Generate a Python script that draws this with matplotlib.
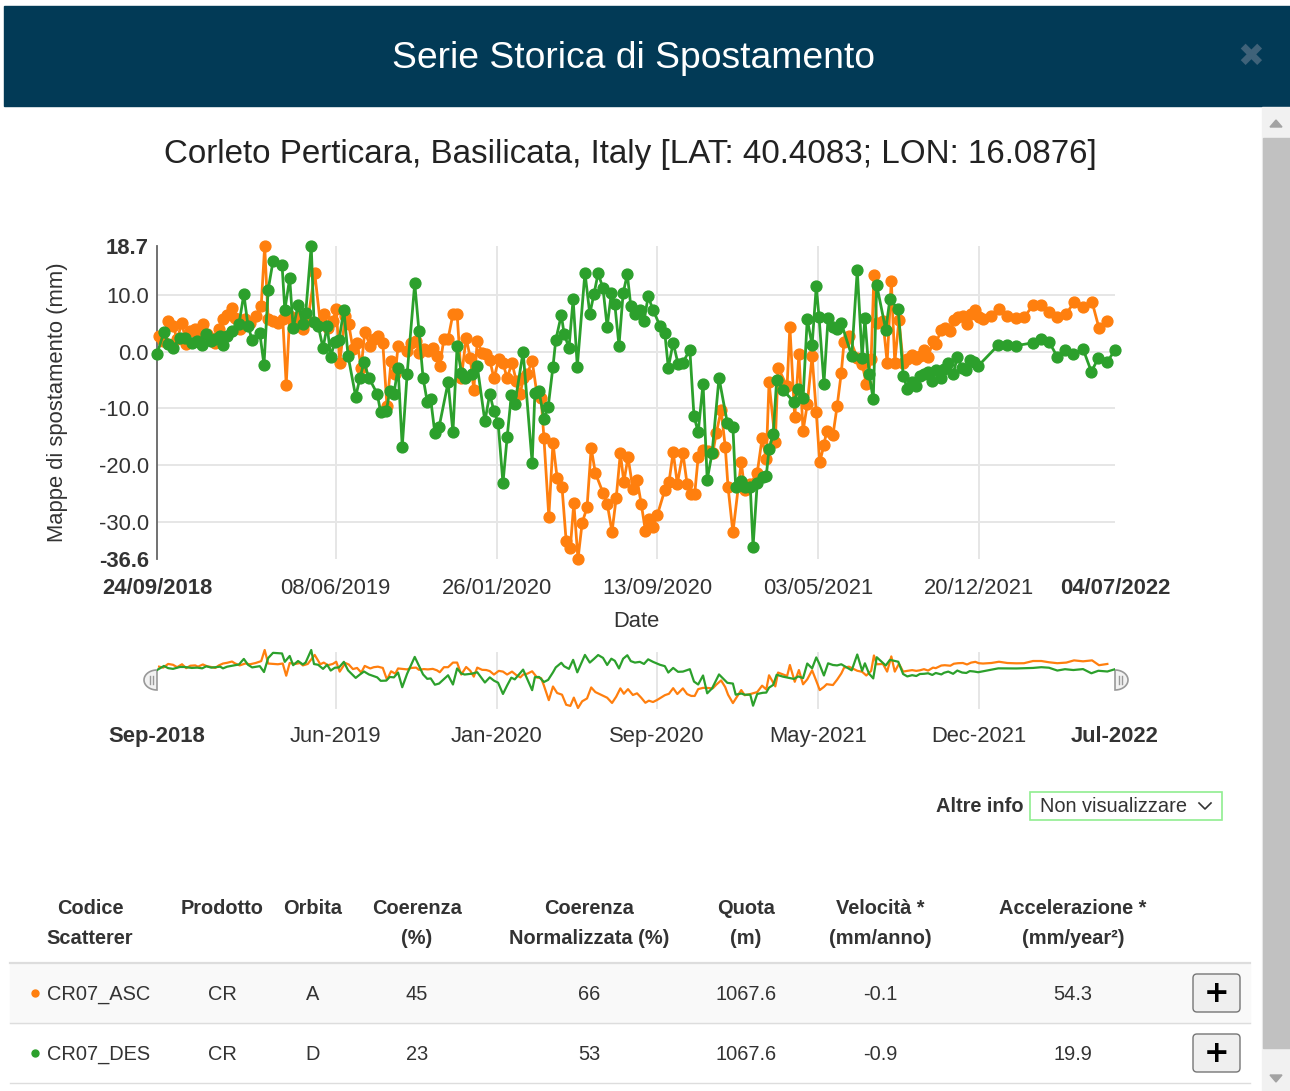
import numpy as np
import pandas as pd
import matplotlib
matplotlib.use("Agg")
import matplotlib.pyplot as plt
from matplotlib.patches import Rectangle, FancyBboxPatch, Polygon

plt.rcParams['font.family'] = ['Liberation Sans', 'DejaVu Sans']

# ---- data (days since first acquisition 24/09/2018, displacement mm) ----
start = pd.Timestamp("2018-09-24")
end = pd.Timestamp("2022-07-04")

asc_days = [3, 9, 16, 23, 29, 36, 42, 48, 55, 59,
            66, 72, 78, 84, 89, 95, 101, 108, 112, 119,
            127, 134, 142, 150, 155, 160, 167, 174, 181, 186,
            191, 199, 206, 210, 217, 227, 235, 240, 246, 253,
            258, 263, 271, 276, 282, 288, 294, 299, 307, 312,
            318, 325, 331, 337, 343, 347, 360, 366, 373, 377,
            384, 390, 397, 403, 407, 413, 419, 426, 432, 438,
            445, 451, 456, 461, 468, 474, 479, 485, 492, 498,
            504, 511, 517, 523, 527, 533, 540, 547, 553, 557,
            564, 570, 576, 583, 589, 595, 600, 606, 612, 619,
            625, 631, 642, 648, 655, 661, 667, 672, 678, 685,
            691, 697, 703, 708, 714, 720, 731, 737, 743, 749,
            757, 763, 769, 774, 779, 786, 793, 800, 805, 812,
            818, 822, 829, 841, 846, 854, 864, 871, 877, 881,
            890, 894, 907, 911, 918, 924, 930, 936, 943, 949,
            954, 960, 964, 973, 979, 985, 989, 996, 1008, 1015,
            1021, 1028, 1032, 1036, 1045, 1051, 1057, 1062, 1068, 1074,
            1080, 1087, 1093, 1098, 1104, 1110, 1117, 1121, 1129, 1134,
            1142, 1147, 1153, 1160, 1166, 1172, 1178, 1183, 1189, 1201,
            1212, 1224, 1237, 1248, 1261, 1273, 1284, 1296, 1309, 1320,
            1333, 1346, 1356, 1368]
asc_mm = [2.8, 1.9, 5.4, 4.6, 2.3, 5.1, 1.4, 3.7, 4.0, 2.8,
          4.9, 3.2, 2.5, 1.6, 4.0, 5.8, 6.5, 7.7, 6.0, 4.0,
          5.8, 5.1, 6.3, 8.1, 18.7, 5.8, 5.4, 5.1, 5.8, -5.8,
          6.3, 5.4, 6.3, 4.0, 5.4, 14.0, 5.1, 6.7, 4.2, 5.4,
          7.5, -1.9, 6.3, 4.9, 0.5, 1.6, -2.8, 3.5, 1.1, 2.3,
          2.8, 1.6, -9.5, -1.6, -3.9, 1.1, 0.2, 1.6, 1.9, -0.2,
          0.5, 0.2, 0.7, -0.7, -2.5, 2.3, 2.3, 6.7, 6.7, -4.7,
          2.5, -1.1, -6.7, 1.9, -0.2, -0.4, -1.4, -4.7, -1.2, -1.9,
          -4.7, -1.9, -5.1, -7.4, -4.7, -3.9, -1.6, -7.5, -8.2, -15.3,
          -29.1, -16.1, -22.3, -23.9, -33.5, -34.6, -26.7, -36.6, -30.2, -27.5,
          -17.0, -21.4, -24.9, -26.8, -31.8, -25.8, -17.9, -23.0, -18.6, -24.2,
          -22.6, -26.8, -31.6, -29.6, -30.9, -28.9, -24.4, -23.0, -17.7, -23.3,
          -17.9, -23.3, -25.1, -25.1, -18.6, -17.4, -17.5, -17.9, -14.4, -10.3,
          -16.8, -23.9, -31.9, -19.5, -24.4, -23.3, -21.4, -15.3, -18.9, -5.4,
          -16.0, -2.8, -6.1, 4.4, -11.6, -0.4, -14.0, -9.3, -0.7, -10.7,
          -19.5, -16.5, -13.9, -14.7, -9.6, -3.7, 1.8, 2.8, -1.1, -2.1,
          -5.6, -1.2, 13.5, 5.1, 5.4, -1.9, 12.6, -1.9, 5.6, -1.9,
          -1.2, -0.5, -1.2, -0.7, 0.4, -0.9, 1.9, 1.4, 3.9, 4.2,
          3.7, 5.6, 6.1, 6.3, 4.9, 6.7, 7.4, 6.1, 5.8, 6.3,
          7.5, 6.3, 6.0, 6.1, 8.2, 8.2, 7.0, 6.1, 6.7, 8.8,
          7.9, 8.8, 4.2, 5.4]

des_days = [0, 10, 16, 23, 33, 40, 50, 58, 65, 71,
            78, 84, 91, 95, 101, 108, 118, 125, 131, 137,
            148, 154, 160, 167, 180, 184, 191, 196, 203, 210,
            214, 222, 226, 232, 239, 245, 250, 256, 262, 269,
            275, 286, 292, 298, 305, 317, 322, 330, 335, 341,
            347, 353, 360, 371, 377, 383, 389, 394, 400, 406,
            419, 426, 432, 438, 443, 453, 461, 472, 479, 485,
            491, 498, 504, 510, 515, 527, 540, 544, 550, 557,
            563, 570, 574, 582, 586, 593, 599, 605, 616, 623,
            629, 635, 642, 648, 654, 659, 665, 671, 677, 682,
            688, 695, 701, 707, 714, 724, 731, 736, 743, 750,
            757, 767, 773, 779, 786, 792, 799, 809, 821, 829,
            833, 841, 846, 854, 858, 864, 872, 877, 881, 887,
            892, 901, 917, 923, 930, 936, 943, 949, 953, 960,
            966, 973, 979, 985, 1000, 1008, 1015, 1019, 1025, 1031,
            1036, 1049, 1055, 1067, 1074, 1080, 1087, 1093, 1098, 1104,
            1110, 1116, 1121, 1129, 1133, 1139, 1146, 1152, 1159, 1165,
            1170, 1176, 1182, 1211, 1224, 1237, 1261, 1273, 1284, 1296,
            1307, 1319, 1333, 1345, 1355, 1368, 1379]
des_mm = [-0.4, 3.5, 1.4, 0.7, 2.5, 2.5, 1.6, 1.9, 1.2, 3.2,
          1.9, 2.3, 2.8, 1.2, 2.8, 3.7, 4.9, 10.2, 4.6, 2.1,
          3.3, -2.3, 11.0, 16.0, 15.4, 7.4, 13.0, 4.2, 8.2, 4.9,
          6.8, 18.7, 5.3, 4.6, 0.7, 4.6, -0.9, 1.8, 2.1, 7.4,
          -0.7, -7.9, -4.7, -1.8, -4.6, -7.4, -10.7, -10.5, -7.0, -7.4,
          -2.8, -16.8, -4.0, 12.1, 3.7, -4.6, -8.8, -8.4, -14.4, -13.3,
          -5.4, -14.2, 1.1, -3.7, -4.7, -3.9, -2.5, -12.3, -7.4, -10.5,
          -12.5, -23.2, -15.1, -7.7, -9.3, 0.0, -19.6, -7.2, -7.0, -11.8,
          -9.8, -2.6, 2.1, 6.5, 3.2, 0.7, 9.3, -2.6, 14.0, 6.7,
          10.2, 13.9, 11.2, 4.4, 10.4, 8.4, 1.1, 10.4, 13.7, 8.1,
          6.7, 7.4, 5.4, 9.8, 7.4, 4.6, 3.3, -2.8, 1.6, -2.1,
          -1.9, 0.4, -11.4, -14.2, -5.6, -22.6, -17.9, -4.6, -12.6, -13.3,
          -23.9, -22.8, -23.9, -23.9, -34.4, -23.2, -22.1, -21.9, -17.2, -14.6,
          -4.9, -6.7, -8.9, -6.5, -8.1, 5.8, 1.2, 11.6, 6.1, -5.6,
          6.0, 4.4, 4.0, 5.1, -0.7, 14.4, -1.1, 6.0, -3.9, -8.4,
          11.8, 3.9, 9.3, 7.5, -4.2, -6.5, -5.3, -6.1, -4.2, -4.0,
          -3.5, -5.1, -3.2, -4.6, -3.0, -1.9, -4.0, -0.9, -2.8, -3.2,
          -1.4, -1.8, -2.5, 1.2, 1.2, 1.1, 1.6, 2.3, 1.8, -0.9,
          0.4, -0.4, 0.5, -3.5, -1.1, -1.8, 0.4]

asc_dates = start + pd.to_timedelta(asc_days, unit="D")
des_dates = start + pd.to_timedelta(des_days, unit="D")

tick_dates = ["2018-09-24", "2019-06-08", "2020-01-26", "2020-09-13", "2021-05-03", "2021-12-20", "2022-07-04"]
tick_labels = ["24/09/2018", "08/06/2019", "26/01/2020", "13/09/2020", "03/05/2021", "20/12/2021", "04/07/2022"]
nav_labels = ["Sep-2018", "Jun-2019", "Jan-2020", "Sep-2020", "May-2021", "Dec-2021", "Jul-2022"]
y_ticks = [18.7, 10.0, 0.0, -10.0, -20.0, -30.0, -36.6]

# table
col_x = [90, 222, 313, 417, 589, 746, 880, 1073]
hdr_top = ["Codice", "Prodotto", "Orbita", "Coerenza", "Coerenza", "Quota", "Velocità *", "Accelerazione *"]
hdr_bot = ["Scatterer", "", "", "(%)", "Normalizzata (%)", "(m)", "(mm/anno)", "(mm/year²)"]
row_asc = ["CR07_ASC", "CR", "A", "45", "66", "1067.6", "-0.1", "54.3"]
row_des = ["CR07_DES", "CR", "D", "23", "53", "1067.6", "-0.9", "19.9"]

ORANGE = "#ff7f0e"
GREEN = "#2ca02c"
TXT = "#333333"
W, H = 1290, 1091

fig = plt.figure(figsize=(W / 100, H / 100), dpi=100)

# page layer in pixel coordinates for the modal decorations
page = fig.add_axes([0, 0, 1, 1])
page.set_xlim(0, W)
page.set_ylim(H, 0)
page.axis("off")

page.add_patch(Rectangle((4, 6), W - 4, 100, color="#023a56"))
page.text(634, 58, "Serie Storica di Spostamento", color="white", fontsize=26.8, ha="center", va="center")
page.text(1251, 57, "✖", color="#3f6279", fontsize=23, ha="center", va="center", family="DejaVu Sans")

# scrollbar
page.add_patch(Rectangle((1262, 107), 28, H - 107, color="#f1f1f1"))
page.add_patch(Rectangle((1263, 138), 27, 910, color="#c1c1c1"))
page.add_patch(Polygon([(1270, 127), (1282, 127), (1276, 120)], color="#a3a3a3"))
page.add_patch(Polygon([(1270, 1075), (1282, 1075), (1276, 1082)], color="#a3a3a3"))

page.text(630, 155, "Corleto Perticara, Basilicata, Italy [LAT: 40.4083; LON: 16.0876]",
          color="#222222", fontsize=23.9, ha="center", va="center")

# main chart
ax = fig.add_axes([157 / W, 1 - 559 / H, (1115 - 157) / W, (559 - 246) / H])
ax.plot(asc_dates, asc_mm, "-o", color=ORANGE, lw=2, ms=7.8, clip_on=False, zorder=3)
ax.plot(des_dates, des_mm, "-o", color=GREEN, lw=2, ms=7.8, clip_on=False, zorder=4)
ax.set_xlim(start, end)
ax.set_ylim(-36.6, 18.7)
for y in y_ticks[1:-1]:
    ax.axhline(y, color="#e6e6e6", lw=1.4, zorder=0)
for d in tick_dates[1:-1]:
    ax.axvline(pd.Timestamp(d), color="#e6e6e6", lw=1.4, zorder=0)
ax.set_yticks(y_ticks)
ax.set_yticklabels(["%.1f" % v for v in y_ticks])
ax.set_xticks(pd.to_datetime(tick_dates))
ax.set_xticklabels(tick_labels)
for lbls in (ax.get_xticklabels(), ax.get_yticklabels()):
    for k in (0, -1):
        lbls[k].set_fontweight("bold")
        lbls[k].set_color("black")
ax.tick_params(axis="y", length=0, pad=6, labelsize=15.8, labelcolor=TXT)
ax.tick_params(axis="x", length=0, pad=13.5, labelsize=15.8, labelcolor=TXT)
for s in ("top", "right", "bottom"):
    ax.spines[s].set_visible(False)
ax.spines["left"].set_color("#666666")
ax.spines["left"].set_linewidth(1.3)
ax.set_ylabel("Mappe di spostamento (mm)", fontsize=15.8, color=TXT, labelpad=22)
ax.set_xlabel("Date", fontsize=15.8, color=TXT, labelpad=9)

# navigator
nav = fig.add_axes([157 / W, 1 - 710 / H, (1115 - 157) / W, 62 / H])
nav.plot(asc_dates, asc_mm, color=ORANGE, lw=1.6)
nav.plot(des_dates, des_mm, color=GREEN, lw=1.6)
nav.set_xlim(start, end)
nav.set_ylim(-38.5, 20.6)
for d in tick_dates[1:-1]:
    nav.axvline(pd.Timestamp(d), ymin=0.03, ymax=0.92, color="#e6e6e6", lw=1.4, zorder=0)
nav.set_yticks([])
nav.set_xticks(pd.to_datetime(tick_dates))
nav.set_xticklabels(nav_labels)
nl = nav.get_xticklabels()
for k in (0, -1):
    nl[k].set_fontweight("bold")
    nl[k].set_color("black")
nav.tick_params(axis="x", length=0, pad=11.5, labelsize=15.8, labelcolor=TXT)
for s in nav.spines.values():
    s.set_visible(False)
nav.patch.set_alpha(0)

# navigator handles
t = np.linspace(np.pi / 2, 3 * np.pi / 2, 30)
for cx, sgn in ((157, 1), (1115, -1)):
    pts = np.column_stack([cx + sgn * 13 * np.cos(t), 680 + 10 * np.sin(t)])
    page.add_patch(Polygon(pts, closed=True, fc="#f2f2f2", ec="#999999", lw=1.2, zorder=5))
    for off in (4, 7):
        page.plot([cx - sgn * off, cx - sgn * off], [676, 684], color="#999999", lw=1, zorder=6)

# other info selector
page.text(1023, 806, "Altre info", fontsize=14.4, fontweight="bold", color=TXT, ha="right", va="center")
page.add_patch(Rectangle((1030, 792), 192, 28, fill=False, ec="#90ee90", lw=1.2))
page.text(1040, 806, "Non visualizzare", fontsize=14.4, color=TXT, ha="left", va="center")
page.plot([1199, 1205, 1211], [803, 809, 803], color=TXT, lw=1.2)

# table
for x, a, b in zip(col_x, hdr_top, hdr_bot):
    page.text(x, 909, a, fontsize=14.4, fontweight="bold", color=TXT, ha="center", va="center")
    page.text(x, 939, b, fontsize=14.4, fontweight="bold", color=TXT, ha="center", va="center")
page.add_patch(Rectangle((10, 964), 1240, 59, color="#f9f9f9"))
page.plot([10, 1250], [963, 963], color="#dddddd", lw=1.6)
page.plot([10, 1250], [1023, 1023], color="#dddddd", lw=1)
page.plot([10, 1250], [1083, 1083], color="#dddddd", lw=1)

for row, yy, c in ((row_asc, 993, ORANGE), (row_des, 1053, GREEN)):
    page.plot(35, yy, "o", color=c, ms=5)
    page.text(47, yy + 1, row[0], fontsize=14.4, color=TXT, ha="left", va="center")
    for x, v in zip(col_x[1:], row[1:]):
        page.text(x, yy + 1, v, fontsize=14.4, color=TXT, ha="center", va="center")
    page.add_patch(FancyBboxPatch((1193, yy - 19), 47, 38, boxstyle="round,pad=0,rounding_size=4",
                                  fc="#efefef", ec="#767676", lw=1))
    page.text(1216.5, yy, "+", fontsize=22, fontweight="bold", color="black", ha="center", va="center",
              family="DejaVu Sans")

plt.savefig("out.png", dpi=100)
